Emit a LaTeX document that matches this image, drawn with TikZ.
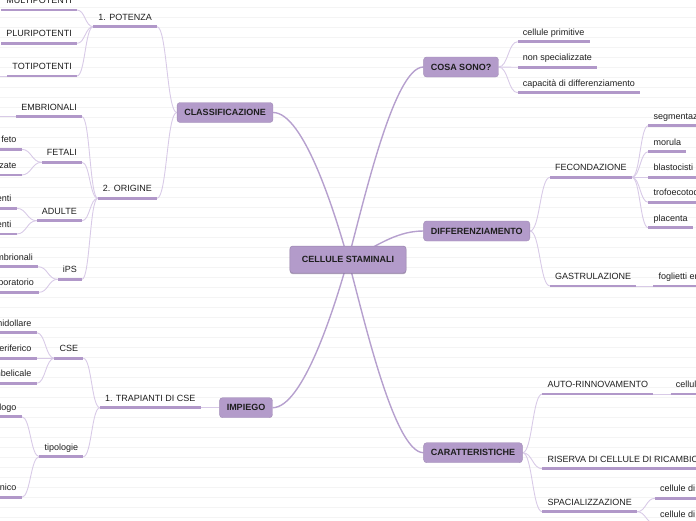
\documentclass[tikz,border=0pt]{standalone}
\usepackage{fontspec}
\setmainfont{Liberation Sans}
\usepackage{xcolor}
\usepackage{tikz}
\usetikzlibrary{calc, backgrounds, shadows}
\definecolor{topiccol}{RGB}{179,155,202}
\definecolor{barcol}{RGB}{177,152,201}
\definecolor{trunkcol}{RGB}{182,160,206}
\definecolor{linkcol}{RGB}{216,202,231}
\definecolor{inkcol}{RGB}{30,30,30}
\definecolor{rulecol}{RGB}{244,244,244}

\begin{document}
\begin{tikzpicture}[
    x=1pt, y=-1pt,
    root/.style={rounded corners=3pt, fill=topiccol, draw=topiccol!85!black, line width=.5pt,
                 minimum width=115pt, minimum height=27pt, inner xsep=12pt,
                 font=\fontsize{9}{11}\selectfont\bfseries, text=inkcol,
                 drop shadow={shadow xshift=0pt, shadow yshift=-1.2pt,
                              fill=topiccol!70!black, opacity=.6}},
    main/.style={rounded corners=3pt, fill=topiccol, draw=topiccol!90!black, line width=.4pt,
                 minimum height=20pt, inner xsep=7.2pt,
                 font=\fontsize{9}{11}\selectfont\bfseries, text=inkcol},
    sub/.style={inner xsep=5pt, inner ysep=4.3pt, text height=6.6pt, text depth=2pt,
                font=\fontsize{9}{11}\selectfont, text=inkcol,
                append after command={\pgfextra{\let\barnode=\tikzlastnode}
                  (\barnode.south west) edge[bar] (\barnode.south east)}},
    lsub/.style={sub, anchor=south east},
    rsub/.style={sub, anchor=south west},
    bar/.style={draw=barcol, line width=2.5pt},
    trunk/.style={draw=trunkcol, line width=1.4pt},
    link/.style={draw=linkcol, line width=.9pt,
                 to path={let \p1=(\tikztostart), \p2=(\tikztotarget) in
                   .. controls ({(\x1+\x2)/2},\y1) and ({(\x1+\x2)/2},\y2) .. (\tikztotarget)}},
    rule/.style={draw=rulecol, line width=.6pt},
  ]
  \useasboundingbox (0,0) rectangle (696,520);

  % ── centre ──
  \node[root] (cs) at (348,259.5) {CELLULE STAMINALI};

  % ── main topics ──
  \node[main] (cls)  at (225,112.5) {CLASSIFICAZIONE};
  \node[main] (imp)  at (246,407.7) {IMPIEGO};
  \node[main] (cosa) at (461,67)    {COSA SONO?};
  \node[main] (diff) at (476.7,231) {DIFFERENZIAMENTO};
  \node[main] (car)  at (473,452.7) {CARATTERISTICHE};

  % ── classificazione ──
  \node[lsub] (pot)   at (157,26.7)   {1. POTENZA};
  \node[lsub] (ori)   at (157,198.3)  {2. ORIGINE};
  \node[lsub] (multi) at (77,10)      {MULTIPOTENTI};
  \node[lsub] (pluri) at (77,43.3)    {PLURIPOTENTI};
  \node[lsub] (toti)  at (77,76)      {TOTIPOTENTI};
  \node[lsub] (embr)  at (82,116.7)   {EMBRIONALI};
  \node[lsub] (fet)   at (82,162.3)   {FETALI};
  \node[lsub] (adu)   at (82,220.7)   {ADULTE};
  \node[lsub] (ips)   at (82,279.3)   {iPS};
  \node[lsub] (fet1)  at (21.5,149.3) {cellule del feto};
  \node[lsub] (fet2)  at (21.5,175)   {poco specializzate};
  \node[lsub] (adu1)  at (16.7,208.3) {multipotenti};
  \node[lsub] (adu2)  at (16.7,234)   {unipotenti};
  \node[lsub] (ips1)  at (38,266.7)   {simili alle embrionali};
  \node[lsub] (ips2)  at (39,292.3)   {create in laboratorio};
  \coordinate (toti-off) at (-12,76);
  \coordinate (embr-off) at (-12,116.7);

  % ── impiego ──
  \node[lsub] (trap)  at (200.7,407.7) {1. TRAPIANTI DI CSE};
  \node[lsub] (cse)   at (83.3,358.3)  {CSE};
  \node[lsub] (tipo)  at (83.3,456.7)  {tipologie};
  \node[lsub] (cse1)  at (36.7,332.7)  {sangue midollare};
  \node[lsub] (cse2)  at (36.7,358.3)  {sangue periferico};
  \node[lsub] (cse3)  at (36.7,383.3)  {cordone ombelicale};
  \node[lsub] (tipo1) at (21.7,416.7)  {autologo};
  \node[lsub] (tipo2) at (21.7,497.3)  {allogenico};

  % ── cosa sono / differenziamento ──
  \node[rsub] (prim)  at (517.7,41.7)  {cellule primitive};
  \node[rsub] (nonsp) at (517.7,67.3)  {non specializzate};
  \node[rsub] (capac) at (517.7,92.7)  {capacità di differenziamento};
  \node[rsub] (fec)   at (550,177.3)   {FECONDAZIONE};
  \node[rsub] (gas)   at (550,286)     {GASTRULAZIONE};
  \node[rsub] (seg)   at (648.3,125.7) {segmentazione};
  \node[rsub] (mor)   at (648.3,151.7) {morula};
  \node[rsub] (bla)   at (648.3,177.3) {blastocisti};
  \node[rsub] (tro)   at (648.3,202.3) {trofoecotoderma};
  \node[rsub] (pla)   at (648.3,227.7) {placenta};
  \node[rsub] (fog)   at (653.3,286)   {foglietti embrionali};

  % ── caratteristiche ──
  \node[rsub] (auto)  at (542.3,394)   {AUTO-RINNOVAMENTO};
  \node[rsub] (ris)   at (542.3,468.7) {RISERVA DI CELLULE DI RICAMBIO};
  \node[rsub] (spec)  at (542.3,511.7) {SPACIALIZZAZIONE};
  \node[rsub] (auto1) at (670.7,394)   {cellule identiche};
  \node[rsub] (spec1) at (655,498.3)   {cellule di un tessuto};
  \node[rsub] (spec2) at (655,523.6)   {cellule di un organo};

  \begin{scope}[on background layer]
    % lined paper
    \foreach \y in {7,17,...,517}
      \draw[rule] (0,\y) -- (696,\y);

    % ── trunks ──
    \draw[trunk] (cls.east)  .. controls +(30,0)  and +(-14,-50) .. (cs.center);
    \draw[trunk] (imp.east)  .. controls +(30,0)  and +(-14,50)  .. (cs.center);
    \draw[trunk] (cosa.west) .. controls +(-30,0) and +(14,-50)  .. (cs.center);
    \draw[trunk] (diff.west) .. controls +(-30,0) and +(25,-10)  .. (cs.center);
    \draw[trunk] (car.west)  .. controls +(-30,0) and +(14,50)   .. (cs.center);

    % ── links, left ──
    \draw[link] (cls.west) to (pot.south east);
    \draw[link] (cls.west) to (ori.south east);
    \draw[link] (pot.south west) to (multi.south east);
    \draw[link] (pot.south west) to (pluri.south east);
    \draw[link] (pot.south west) to (toti.south east);
    \draw[link] (toti.south west) to (toti-off);
    \draw[link] (ori.south west) to (embr.south east);
    \draw[link] (ori.south west) to (fet.south east);
    \draw[link] (ori.south west) to (adu.south east);
    \draw[link] (ori.south west) to (ips.south east);
    \draw[link] (embr.south west) to (embr-off);
    \draw[link] (fet.south west) to (fet1.south east);
    \draw[link] (fet.south west) to (fet2.south east);
    \draw[link] (adu.south west) to (adu1.south east);
    \draw[link] (adu.south west) to (adu2.south east);
    \draw[link] (ips.south west) to (ips1.south east);
    \draw[link] (ips.south west) to (ips2.south east);
    \draw[link] (imp.west) to (trap.south east);
    \draw[link] (trap.south west) to (cse.south east);
    \draw[link] (trap.south west) to (tipo.south east);
    \draw[link] (cse.south west) to (cse1.south east);
    \draw[link] (cse.south west) to (cse2.south east);
    \draw[link] (cse.south west) to (cse3.south east);
    \draw[link] (tipo.south west) to (tipo1.south east);
    \draw[link] (tipo.south west) to (tipo2.south east);

    % ── links, right ──
    \draw[link] (cosa.east) to (prim.south west);
    \draw[link] (cosa.east) to (nonsp.south west);
    \draw[link] (cosa.east) to (capac.south west);
    \draw[link] (diff.east) to (fec.south west);
    \draw[link] (diff.east) to (gas.south west);
    \draw[link] (fec.south east) to (seg.south west);
    \draw[link] (fec.south east) to (mor.south west);
    \draw[link] (fec.south east) to (bla.south west);
    \draw[link] (fec.south east) to (tro.south west);
    \draw[link] (fec.south east) to (pla.south west);
    \draw[link] (gas.south east) to (fog.south west);
    \draw[link] (car.east) to (auto.south west);
    \draw[link] (car.east) to (ris.south west);
    \draw[link] (car.east) to (spec.south west);
    \draw[link] (auto.south east) to (auto1.south west);
    \draw[link] (spec.south east) to (spec1.south west);
    \draw[link] (spec.south east) to (spec2.south west);
  \end{scope}
\end{tikzpicture}
\end{document}
